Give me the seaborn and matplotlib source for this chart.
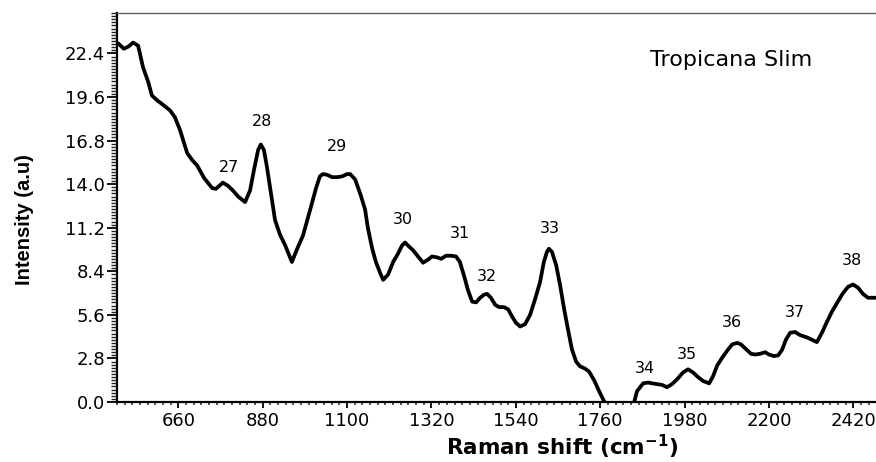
import numpy as np
import pandas as pd
import matplotlib
matplotlib.use("Agg")
import matplotlib.pyplot as plt
import seaborn as sns
from matplotlib.ticker import MultipleLocator

# ---------------- data ----------------
raman_shift = [503, 518, 530, 542, 555, 568, 581, 591, 604, 620, 638, 651, 664, 683, 696,
               709, 727, 748, 758, 776, 789, 802, 816, 834, 847, 857, 868, 875, 883, 891,
               902, 912, 925, 938, 956, 969, 985, 1003, 1019, 1029, 1037, 1048, 1061, 1074,
               1087, 1100, 1108, 1121, 1136, 1147, 1154, 1165, 1175, 1186, 1194, 1207, 1220,
               1233, 1243, 1251, 1261, 1272, 1285, 1298, 1311, 1321, 1334, 1345, 1358, 1371,
               1384, 1394, 1405, 1415, 1426, 1436, 1447, 1457, 1465, 1475, 1486, 1496, 1509,
               1520, 1530, 1540, 1551, 1564, 1577, 1590, 1603, 1613, 1621, 1626, 1634, 1645,
               1655, 1666, 1676, 1686, 1697, 1707, 1720, 1731, 1744, 1757, 1770, 1799, 1838,
               1856, 1872, 1885, 1895, 1908, 1921, 1934, 1947, 1960, 1976, 1989, 2002, 2015,
               2028, 2044, 2054, 2065, 2078, 2091, 2104, 2117, 2127, 2140, 2153, 2164, 2177,
               2190, 2200, 2213, 2224, 2234, 2244, 2255, 2268, 2281, 2299, 2312, 2325, 2338,
               2351, 2364, 2377, 2393, 2406, 2419, 2432, 2445, 2458, 2469, 2479]
intensity = [23.05, 22.7, 22.85, 23.1, 22.9, 21.5, 20.6, 19.7, 19.4, 19.1, 18.75, 18.3, 17.5,
             16.0, 15.55, 15.2, 14.4, 13.75, 13.7, 14.1, 13.9, 13.6, 13.2, 12.85, 13.6, 14.9,
             16.2, 16.55, 16.2, 15.1, 13.3, 11.7, 10.75, 10.1, 9.0, 9.8, 10.7, 12.3, 13.75,
             14.5, 14.65, 14.6, 14.45, 14.45, 14.5, 14.65, 14.65, 14.3, 13.25, 12.35, 11.2,
             9.9, 9.0, 8.3, 7.85, 8.2, 9.0, 9.55, 10.05, 10.25, 10.0, 9.75, 9.35, 8.95, 9.15,
             9.35, 9.3, 9.2, 9.4, 9.4, 9.35, 9.0, 8.1, 7.2, 6.45, 6.4, 6.7, 6.9, 6.95, 6.7,
             6.25, 6.1, 6.1, 5.95, 5.5, 5.1, 4.85, 5.0, 5.6, 6.6, 7.7, 9.0, 9.65, 9.85, 9.65,
             8.8, 7.55, 5.95, 4.65, 3.4, 2.6, 2.3, 2.15, 1.95, 1.4, 0.7, 0.05, -1.1, -1.0,
             0.7, 1.2, 1.25, 1.2, 1.15, 1.1, 0.95, 1.15, 1.45, 1.9, 2.1, 1.9, 1.6, 1.35, 1.2,
             1.65, 2.35, 2.85, 3.3, 3.7, 3.8, 3.7, 3.4, 3.1, 3.05, 3.1, 3.2, 3.05, 2.95, 3.0,
             3.35, 4.0, 4.45, 4.5, 4.3, 4.15, 4.0, 3.85, 4.45, 5.15, 5.8, 6.35, 7.0, 7.4, 7.55,
             7.35, 6.95, 6.7, 6.7, 6.7]

peak_labels = ["27", "28", "29", "30", "31", "32", "33", "34", "35", "36", "37", "38"]
peak_label_x = [792, 878, 1074, 1246, 1394, 1465, 1629, 1877, 1986, 2104, 2268, 2417]
peak_label_y = [15.1, 18.05, 16.45, 11.7, 10.8, 8.05, 11.15, 2.15, 3.05, 5.1, 5.75, 9.1]

x_ticks = [660, 880, 1100, 1320, 1540, 1760, 1980, 2200, 2420]
y_ticks = [0.0, 2.8, 5.6, 8.4, 11.2, 14.0, 16.8, 19.6, 22.4]
y_tick_labels = ["0.0", "2.8", "5.6", "8.4", "11.2", "14.0", "16.8", "19.6", "22.4"]

sample_name = "Tropicana Slim"
x_label = "Raman shift (cm$^{\\mathbf{-1}}$)"
y_label = "Intensity (a.u)"

# ---------------- figure ----------------
sns.set_style("ticks")
plt.rcParams["font.family"] = ["DejaVu Sans"]
plt.rcParams["mathtext.default"] = "bf"
plt.rcParams["text.color"] = "black"
plt.rcParams["axes.labelcolor"] = "black"

fig = plt.figure(figsize=(8.76, 4.62), dpi=100)
ax = fig.add_axes([117 / 876, 60 / 462, 759 / 876, 389 / 462])

df = pd.DataFrame({"shift": raman_shift, "intensity": intensity})
sns.lineplot(data=df, x="shift", y="intensity", ax=ax, color="black",
             linewidth=2.7, legend=False)

ax.set_xlim(500, 2479)
ax.set_ylim(0, 25)

ax.set_xticks(x_ticks)
ax.set_xticklabels([str(v) for v in x_ticks])
ax.set_yticks(y_ticks)
ax.set_yticklabels(y_tick_labels)
ax.xaxis.set_minor_locator(MultipleLocator(20))
ax.yaxis.set_minor_locator(MultipleLocator(0.2))

ax.tick_params(axis="x", which="major", direction="out", length=4.5, width=1.3,
               labelsize=13, pad=3, colors="black")
ax.tick_params(axis="x", which="minor", direction="out", length=2.5, width=1.1)
ax.tick_params(axis="y", which="major", direction="out", length=7.5, width=1.3,
               labelsize=13, pad=1, colors="black")
ax.tick_params(axis="y", which="minor", direction="out", length=4.0, width=1.0)

ax.spines["right"].set_visible(False)
ax.spines["top"].set_color("#606060")
ax.spines["top"].set_linewidth(1.0)
for s in ("left", "bottom"):
    ax.spines[s].set_color("black")
    ax.spines[s].set_linewidth(1.6)

ax.set_xlabel(x_label, fontsize=15.5, fontweight="bold", color="black")
ax.xaxis.set_label_coords(0.586, -0.080)
ax.set_ylabel(y_label, fontsize=14.5, fontweight="bold", color="black",
              family=["Liberation Sans", "DejaVu Sans"])
ax.yaxis.set_label_coords(-0.110, 0.47)

for lab, lx, ly in zip(peak_labels, peak_label_x, peak_label_y):
    ax.text(lx, ly, lab, fontsize=11.5, ha="center", va="center", color="black")

ax.text(2102, 21.95, sample_name, fontsize=16, ha="center", va="center", color="black")

fig.savefig("out.png", dpi=100)
